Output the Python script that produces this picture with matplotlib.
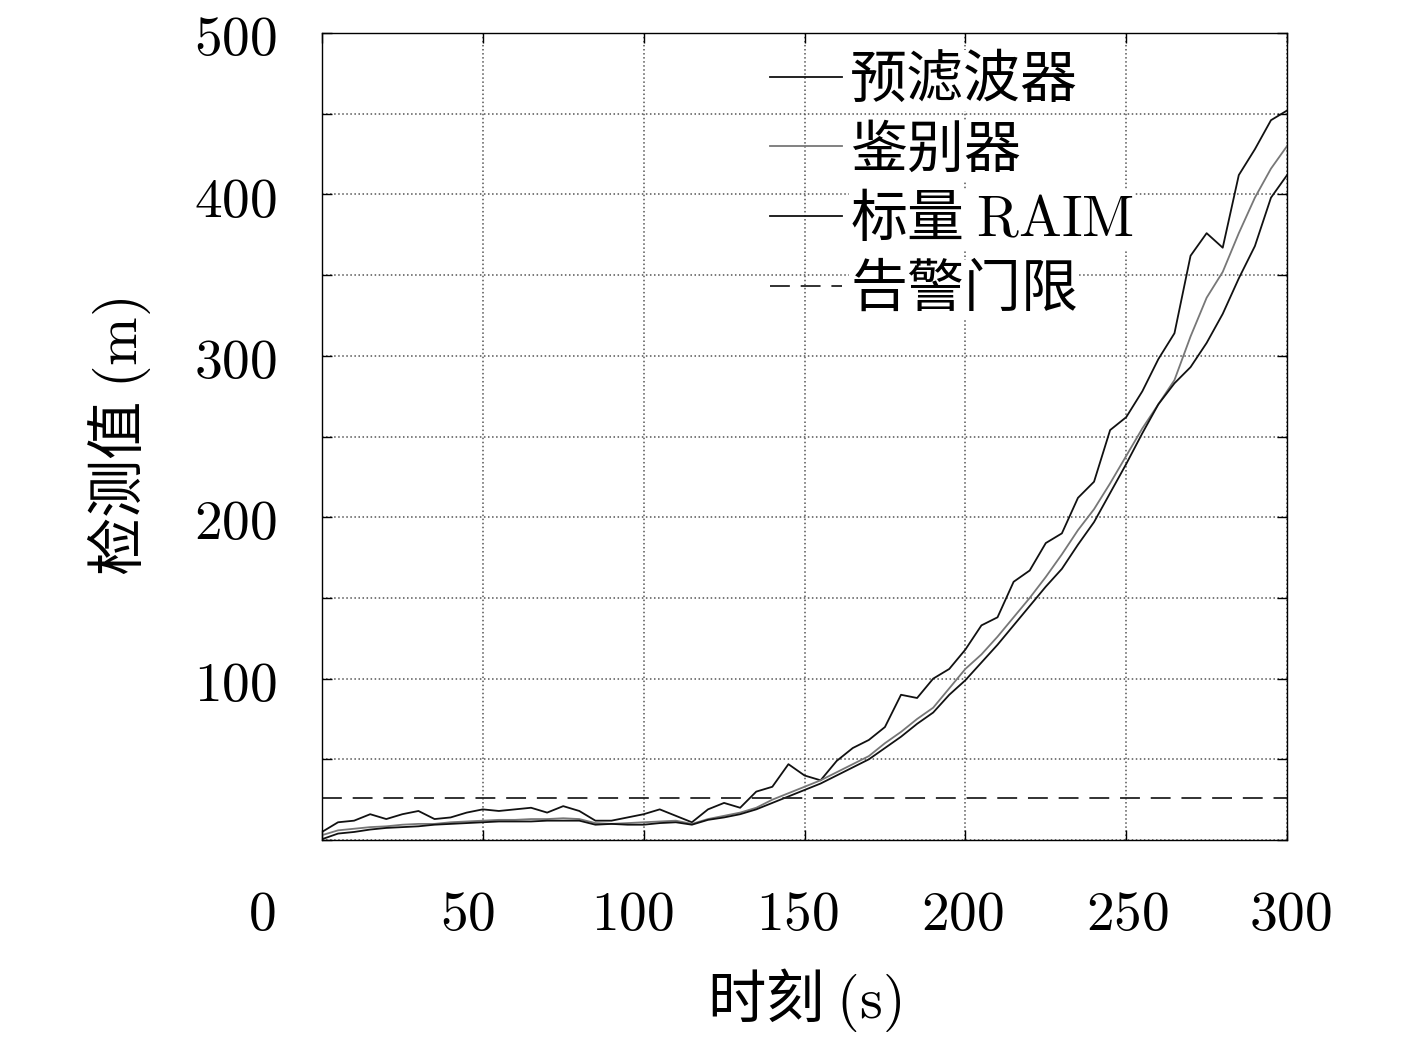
import matplotlib
matplotlib.use('Agg')
import matplotlib.pyplot as plt
import matplotlib.transforms as mtransforms
from matplotlib.ticker import MultipleLocator, FixedLocator, FixedFormatter

plt.rcParams['font.family'] = ['Noto Sans CJK SC', 'DejaVu Sans']
plt.rcParams['mathtext.fontset'] = 'cm'

# time axis (s)
t = list(range(0, 301, 5))

# detection values (m)
prefilter = [5, 11, 12, 16, 13, 16, 18, 13, 14, 17,
             19, 18, 19, 20, 17, 21, 18, 12, 12, 14,
             16, 19, 15, 11, 19, 23, 20, 30, 33, 47,
             40, 37, 49, 57, 62, 70, 90, 88, 100, 106,
             118, 133, 138, 160, 167, 184, 190, 212, 222, 254,
             262, 278, 298, 314, 362, 376, 367, 412, 428, 446,
             452]
discriminator = [3, 6, 7, 8, 8.5, 9.5, 10, 10, 11, 11.5,
                 12, 12.5, 12.5, 13, 13, 13.5, 13, 10.5, 10, 10.5,
                 11, 11.5, 12, 10, 13, 15, 17, 20, 25, 29,
                 33, 37, 42, 47, 52, 60, 67, 75, 82, 94,
                 106, 115, 126, 138, 150, 163, 177, 192, 205, 221,
                 238, 255, 270, 285, 312, 336, 352, 376, 398, 416,
                 430]
scalar_raim = [0.5, 4, 5, 6.5, 7.5, 8, 8.5, 9.5, 10, 10.5,
               11, 11.5, 11.5, 11.5, 12, 12, 12, 9.5, 10, 9.5,
               9.5, 10.5, 11, 9.5, 12.5, 14, 16, 19, 23, 27,
               31, 35, 40, 45, 50, 57, 64, 72, 79, 90,
               99, 110, 121, 133, 145, 157, 168, 183, 197, 215,
               233, 252, 270, 283, 293, 308, 326, 348, 368, 398,
               412]
alarm_limit = 26

x_ticks = [0, 50, 100, 150, 200, 250, 300]
y_ticks = [100, 200, 300, 400, 500]

fig = plt.figure(figsize=(14.17, 10.39), dpi=100)
ax = fig.add_axes([0.2272, 0.1915, 0.6811, 0.7767])

ax.plot(t, prefilter, color='#111111', lw=1.3, label='预滤波器')
ax.plot(t, discriminator, color='#777777', lw=1.3, label='鉴别器')
ax.plot(t, scalar_raim, color='#111111', lw=1.3, label=r'标量 $\mathrm{RAIM}$')
ax.axhline(alarm_limit, color='#222222', lw=1.3, ls=(0, (11, 6)), label='告警门限')

ax.set_xlim(0, 300)
ax.set_ylim(0, 500)

ax.xaxis.set_major_locator(FixedLocator(x_ticks))
ax.xaxis.set_major_formatter(FixedFormatter(['$%d$' % v for v in x_ticks]))
ax.yaxis.set_major_locator(FixedLocator(y_ticks))
ax.yaxis.set_major_formatter(FixedFormatter(['$%d$' % v for v in y_ticks]))
ax.yaxis.set_minor_locator(MultipleLocator(50))

ax.tick_params(which='both', direction='in', top=True, right=True,
               length=7, width=1, labelsize=40)
ax.tick_params(axis='x', pad=33)
ax.tick_params(axis='y', pad=32)
ax.grid(True, which='both', ls=':', color='#555555', lw=1.1)

# x tick labels sit a little left of their ticks in the original
shifts = [-60, -15, -11, -7, -3, 1, 3]
for lab, dx in zip(ax.get_xticklabels(), shifts):
    off = mtransforms.ScaledTranslation(dx / 100, 0, fig.dpi_scale_trans)
    lab.set_transform(lab.get_transform() + off)

for s in ax.spines.values():
    s.set_linewidth(1)

ax.set_xlabel(r'时刻 $(\mathrm{s})$', fontsize=42, labelpad=17)
ax.set_ylabel(r'检测值 $(\mathrm{m})$', fontsize=42, labelpad=30)

leg = ax.legend(loc='upper left', bbox_to_anchor=(0.441, 1.006), frameon=False,
                fontsize=41, handlelength=1.25, handletextpad=0.15,
                labelspacing=0.2, borderaxespad=0.0)
for txt in leg.get_texts():
    txt.set_bbox(dict(facecolor='white', edgecolor='none', pad=1))

fig.savefig('out.png', dpi=100, facecolor='white')
